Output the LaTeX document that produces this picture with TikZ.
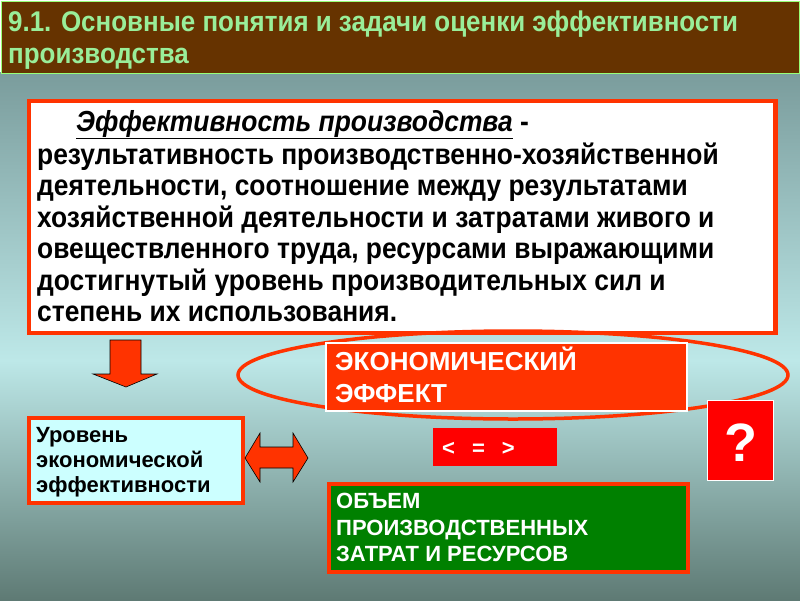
\documentclass[tikz,border=0pt]{standalone}
\usepackage{fontspec}
\usetikzlibrary{shapes.geometric}
\setmainfont{Liberation Sans}
\newfontfamily\tallfont[FakeStretch=0.91]{Liberation Sans}
\definecolor{brownbar}{HTML}{663300}
\definecolor{titlegreen}{HTML}{99EE99}
\definecolor{barline}{HTML}{99FF77}
\definecolor{redline}{HTML}{FF3300}
\definecolor{purered}{HTML}{FF0000}
\definecolor{greenbox}{HTML}{008000}
\definecolor{lightcyan}{HTML}{CCFFFF}
\definecolor{bgtop}{HTML}{7A9C9C}
\definecolor{bgmid}{HTML}{BDE8E8}
\definecolor{bgbot}{HTML}{5E7A74}
\tikzset{
  boxnode/.style={rectangle, anchor=north west, inner sep=0pt},
  titletext/.style={anchor=base west, inner sep=0pt, text=titlegreen,
    font=\tallfont\bfseries\fontsize{28.5}{28.5}\selectfont},
  maintext/.style={anchor=base west, inner sep=0pt, text=black,
    font=\tallfont\bfseries\fontsize{29}{29}\selectfont},
  leveltext/.style={anchor=base west, inner sep=0pt, text=black,
    font=\bfseries\fontsize{22}{22}\selectfont},
  whitetext/.style={anchor=base west, inner sep=0pt, text=white,
    font=\bfseries\fontsize{22}{22}\selectfont},
  efftext/.style={anchor=base west, inner sep=0pt, text=white,
    font=\bfseries\fontsize{26}{26}\selectfont},
  blockarrow/.style={fill=redline, draw=black, line width=0.6pt},
}
\begin{document}
\begin{tikzpicture}[x=1pt,y=-1pt]
\useasboundingbox (0,0) rectangle (800,600);
% background
\shade[top color=bgtop, bottom color=bgmid] (0,72) rectangle (800,360);
\shade[top color=bgmid, bottom color=bgbot] (0,360) rectangle (800,600);
% title bar
\node[boxnode, fill=brownbar, draw=barline, line width=1.2pt,
  minimum width=798pt, minimum height=72pt] (bar) at (1,1) {};
\node[titletext] (t1) at (8,31) {9.1. Основные понятия и задачи оценки эффективности};
\node[titletext] (t2) at (8,63) {производства};
% main definition box
\node[boxnode, fill=white, draw=redline, line width=4.5pt,
  minimum width=746.5pt, minimum height=232pt] (mbox) at (26.5,98.5) {};
\node[maintext] (m1) at (76,131) {\textit{\underline{Эффективность производства}} -};
\node[maintext] (m2) at (37,164) {результативность производственно-хозяйственной};
\node[maintext] (m3) at (37,195.5) {деятельности, соотношение между результатами};
\node[maintext] (m4) at (37,227) {хозяйственной деятельности и затратами живого и};
\node[maintext] (m5) at (37,258.5) {овеществленного труда, ресурсами выражающими};
\node[maintext] (m6) at (37,290) {достигнутый уровень производительных сил и};
\node[maintext] (m7) at (37,321.5) {степень их использования.};
% down arrow
\filldraw[blockarrow] (110,340) -- (141,340) -- (141,374) -- (157,374)
  -- (126,387) -- (93,374) -- (110,374) -- cycle;
% ellipse
\node[ellipse, draw=redline, line width=3.5pt, minimum width=550pt,
  minimum height=88pt, inner sep=0pt] (ell) at (513,375) {};
% economic effect box
\node[boxnode, fill=redline, draw=white, line width=1.5pt,
  minimum width=361pt, minimum height=68pt] (eff) at (325,342) {};
\node[efftext] (e1) at (335,370) {ЭКОНОМИЧЕСКИЙ};
\node[efftext] (e2) at (335,402) {ЭФФЕКТ};
% comparison box
\node[boxnode, fill=purered, minimum width=124pt, minimum height=38pt] (cmp) at (433,428) {};
\node[whitetext] (cmpt) at (442,455) {<\hspace{17pt}=\hspace{17pt}>};
% question box
\node[boxnode, fill=purered, draw=white, line width=1pt,
  minimum width=66pt, minimum height=80pt] (q) at (707,400) {};
\node[inner sep=0pt, text=white, font=\bfseries\fontsize{54}{54}\selectfont]
  (qm) at ([yshift=-2pt]q.center) {?};
% level box
\node[boxnode, fill=lightcyan, draw=redline, line width=4pt,
  minimum width=214pt, minimum height=85pt] (lvl) at (27,416) {};
\node[leveltext] (l1) at (36,442) {Уровень};
\node[leveltext] (l2) at (36,467) {экономической};
\node[leveltext] (l3) at (36,492) {эффективности};
% double arrow
\filldraw[blockarrow] (245,458) -- (260,433) -- (260,447) -- (293,447)
  -- (293,433) -- (308,458) -- (293,482) -- (293,468) -- (260,468)
  -- (260,482) -- cycle;
% green box
\node[boxnode, fill=greenbox, draw=redline, line width=4pt,
  minimum width=359pt, minimum height=88pt] (vol) at (327,482) {};
\node[whitetext] (v1) at (336,508) {ОБЪЕМ};
\node[whitetext] (v2) at (336,535) {ПРОИЗВОДСТВЕННЫХ};
\node[whitetext] (v3) at (336,561) {ЗАТРАТ И РЕСУРСОВ};
\end{tikzpicture}
\end{document}
